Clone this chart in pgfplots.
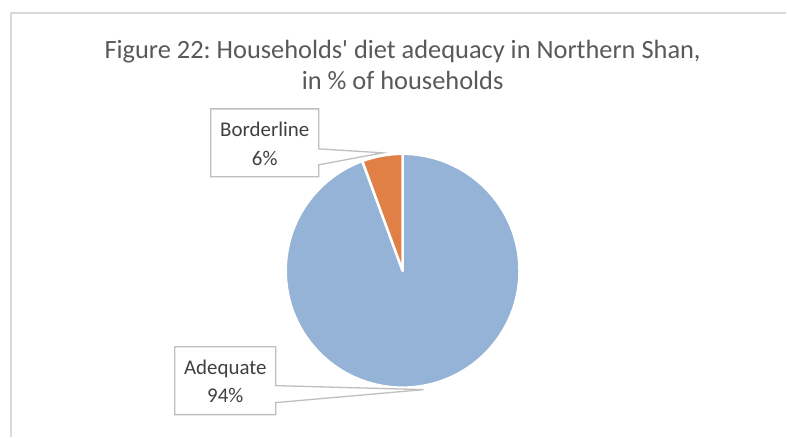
\documentclass[border=0pt]{standalone}
\usepackage{pgfplots}
\pgfplotsset{compat=1.18}
\usepackage{pgfplotstable}
\usepackage{fontspec}
\setmainfont{Carlito}
\frenchspacing
\definecolor{pieblue}{HTML}{95B3D7}
\definecolor{pieorange}{HTML}{E07F46}
\definecolor{titlegray}{HTML}{595959}
\definecolor{labelgray}{HTML}{404040}
\definecolor{framegray}{HTML}{D9D9D9}
\definecolor{boxgray}{HTML}{BFBFBF}

\pgfplotstableread{
label value
Adequate 94.4
Borderline 5.6
}\piedata

\begin{document}
\begin{tikzpicture}
\pgfplotstablegetelem{0}{value}\of\piedata
\pgfmathsetmacro{\va}{\pgfplotsretval}
\pgfplotstablegetelem{1}{value}\of\piedata
\pgfmathsetmacro{\vb}{\pgfplotsretval}
\pgfmathsetmacro{\total}{\va+\vb}
\pgfmathsetmacro{\endA}{90-(\va/\total)*360}
\pgfmathsetmacro{\endB}{\endA-(\vb/\total)*360}
\begin{axis}[
  width=787bp, height=437bp, scale only axis,
  xmin=0, xmax=787, ymin=0, ymax=437,
  hide axis, clip=false,
]
\path (axis cs:0,0) (axis cs:787,437);
% frame
\draw[framegray, line width=1.5bp] (axis cs:11,0) -- (axis cs:11,424) -- (axis cs:787,424);
% title
\node[anchor=base, text=titlegray, font=\fontsize{26.5}{30}\selectfont] at (axis cs:403,{437-58.3}) {Figure 22: Households\textquotesingle{} diet adequacy in Northern Shan,};
\node[anchor=base, text=titlegray, font=\fontsize{26.5}{30}\selectfont] at (axis cs:403,{437-90}) {in \% of households};
% pie slices
\fill[pieblue, draw=white, line width=2.5bp, line join=round] (axis cs:403,166) -- ++(90:117bp) arc[start angle=90, end angle=\endA, radius=117bp] -- cycle;
\fill[pieorange, draw=white, line width=2.5bp, line join=round] (axis cs:403,166) -- ++(\endA:117bp) arc[start angle=\endA, end angle=\endB, radius=117bp] -- cycle;
% callout Borderline
\filldraw[fill=white, draw=boxgray, line width=1.3bp]
  (axis cs:211,{437-109}) -- (axis cs:319,{437-109}) -- (axis cs:319,{437-149}) -- (axis cs:383,{437-153}) -- (axis cs:319,{437-165}) -- (axis cs:319,{437-177}) -- (axis cs:211,{437-177}) -- cycle;
\node[anchor=base, text=labelgray, font=\fontsize{21}{25}\selectfont] at (axis cs:265,{437-136.7}) {Borderline};
\node[anchor=base, text=labelgray, font=\fontsize{21}{25}\selectfont] at (axis cs:265,{437-165.7}) {6\%};
% callout Adequate
\filldraw[fill=white, draw=boxgray, line width=1.3bp]
  (axis cs:175,{437-347}) -- (axis cs:276,{437-347}) -- (axis cs:276,{437-386}) -- (axis cs:424,{437-390}) -- (axis cs:276,{437-403}) -- (axis cs:276,{437-415}) -- (axis cs:175,{437-415}) -- cycle;
\node[anchor=base, text=labelgray, font=\fontsize{21}{25}\selectfont] at (axis cs:225.5,{437-375}) {Adequate};
\node[anchor=base, text=labelgray, font=\fontsize{21}{25}\selectfont] at (axis cs:225.5,{437-403.3}) {94\%};
\end{axis}
\end{tikzpicture}
\end{document}
